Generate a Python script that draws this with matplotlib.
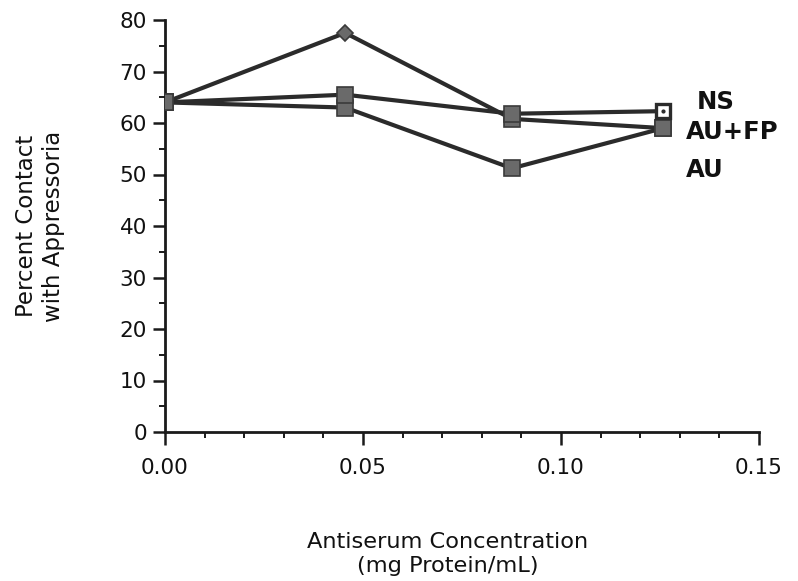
import matplotlib
matplotlib.use("Agg")
import matplotlib.pyplot as plt
from matplotlib.ticker import MultipleLocator, FormatStrFormatter

plt.rcParams['font.family'] = ['DejaVu Sans']

# Data
conc = [0.0, 0.0455, 0.0876, 0.1258]
ns = [64.0, 65.5, 61.8, 62.3]
au_fp = [64.0, 77.5, 60.8, 59.0]
au = [64.0, 63.0, 51.2, 59.0]
series_labels = ["NS", "AU+FP", "AU"]
y_ticks = [0, 10, 20, 30, 40, 50, 60, 70, 80]
x_ticks = [0.00, 0.05, 0.10, 0.15]

line_c = '#2b2b2b'
fill_c = '#6a6a6a'

fig = plt.figure(figsize=(7.98, 5.81), dpi=100)
ax = fig.add_axes([165/798, 1-432/581, 594/798, 412/581])

kw = dict(color=line_c, lw=3.0, markersize=11, markerfacecolor=fill_c,
          markeredgecolor='#3a3a3a', markeredgewidth=1.2, zorder=3)

ax.plot(conc, au, marker='s', **kw)
ax.plot(conc, au_fp, marker='s', markevery=[0, 2, 3], **kw)
ax.plot(conc, au_fp, marker='D', markevery=[1], ls='none',
        **{k: v for k, v in kw.items() if k != 'markersize'}, markersize=8.5)
ax.plot(conc, ns, marker='s', markevery=[0, 1, 2], **kw)
# open end marker for NS
ax.plot(conc[-1:], ns[-1:], marker='s', ls='none', markersize=10,
        markerfacecolor='white', markeredgecolor=line_c, markeredgewidth=2.4, zorder=4)
ax.plot(conc[-1:], ns[-1:], marker='.', ls='none', markersize=4,
        color=line_c, zorder=5)

ax.set_xlim(0, 0.15)
ax.set_ylim(0, 80)
ax.set_xticks(x_ticks)
ax.set_yticks(y_ticks)
ax.xaxis.set_minor_locator(MultipleLocator(0.01))
ax.yaxis.set_minor_locator(MultipleLocator(5))
ax.xaxis.set_major_formatter(FormatStrFormatter('%.2f'))

for s in ['top', 'right']:
    ax.spines[s].set_visible(False)
for s in ['left', 'bottom']:
    ax.spines[s].set_linewidth(2.0)
    ax.spines[s].set_color('#1a1a1a')
    ax.spines[s].set_zorder(2)

ax.tick_params(axis='both', which='major', direction='out', length=9, width=1.8,
               colors='#1a1a1a', labelsize=15.5, labelcolor='#111111')
ax.tick_params(axis='both', which='minor', direction='out', length=4, width=1.4,
               colors='#1a1a1a')
ax.tick_params(axis='x', which='major', pad=10)
ax.tick_params(axis='y', which='major', pad=4)

# Series labels at right
lab_kw = dict(transform=ax.transAxes, fontsize=17.5, fontweight='bold',
              ha='left', va='center', color='#111111')
ax.text(0.896, 0.801, series_labels[0], **lab_kw)
ax.text(0.877, 0.728, series_labels[1], **lab_kw)
ax.text(0.877, 0.636, series_labels[2], **lab_kw)

fig.text(40/798, 1-226/581, "Percent Contact\nwith Appressoria", rotation=90,
         ha='center', va='center', multialignment='center', fontsize=16.5,
         linespacing=1.2, color='#111111')
fig.text(448/798, 1-554/581, "Antiserum Concentration\n(mg Protein/mL)",
         ha='center', va='center', multialignment='center', fontsize=16.2,
         linespacing=1.3, color='#111111')

fig.savefig('out.png', dpi=100)
